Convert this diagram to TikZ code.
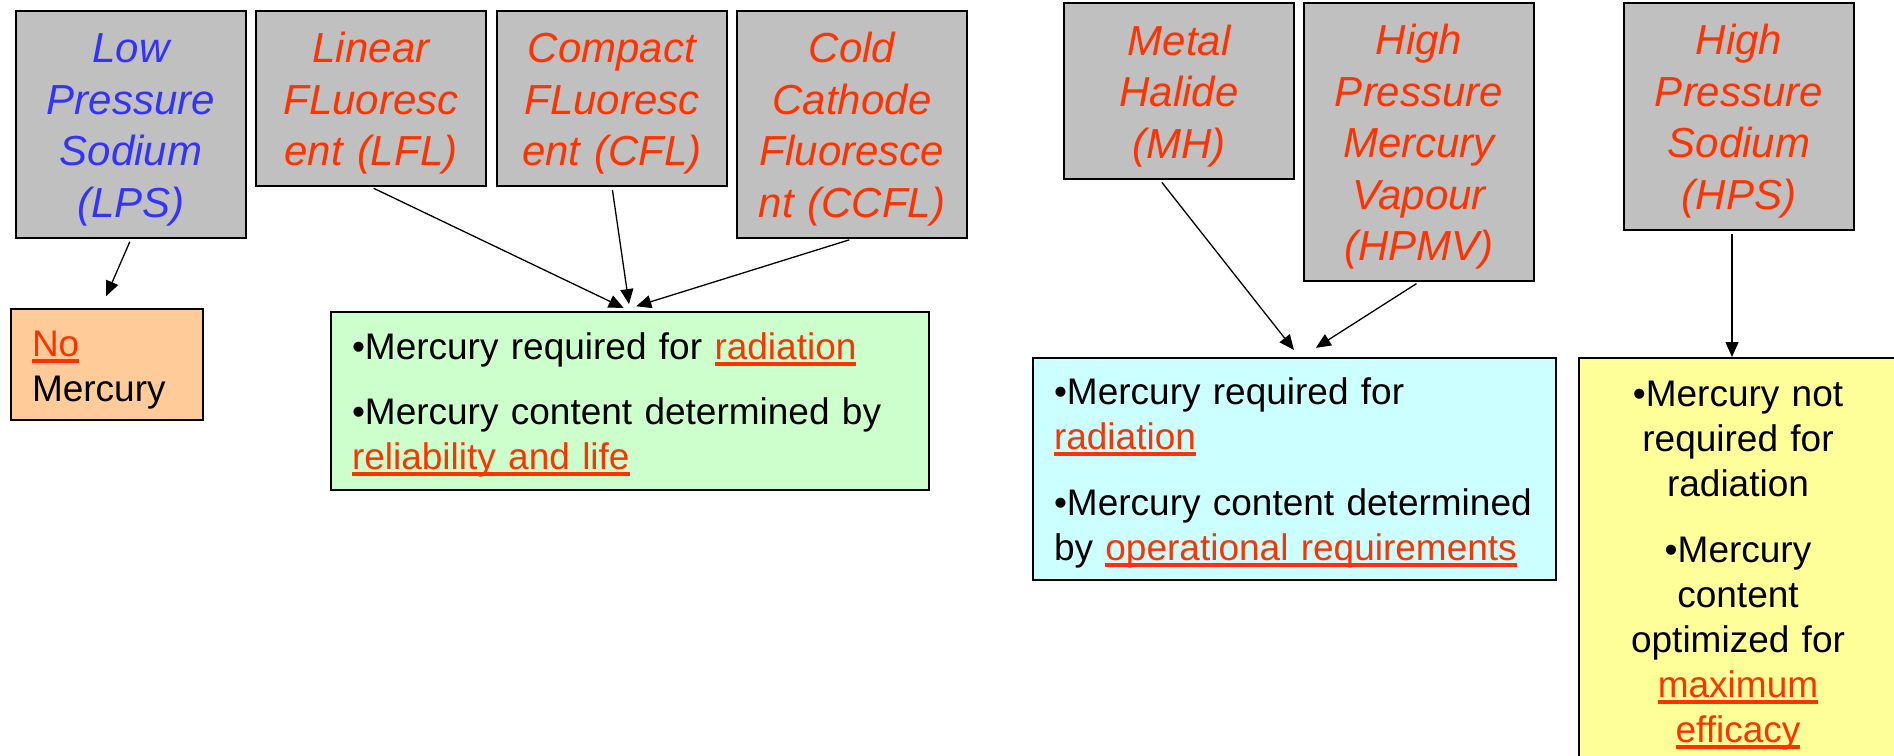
\documentclass[tikz,border=0pt]{standalone}
\usepackage{fontspec}
\setmainfont{Liberation Sans}
\usepackage{xcolor}
\usepackage{tikz}
\usetikzlibrary{arrows.meta}

\definecolor{lampgray}{HTML}{C0C0C0}
\definecolor{lampblue}{HTML}{3333FF}
\definecolor{lampred}{HTML}{FF3300}
\definecolor{nofill}{HTML}{FFCC99}
\definecolor{flfill}{HTML}{CCFFCC}
\definecolor{hidfill}{HTML}{CCFFFF}
\definecolor{hpsfill}{HTML}{FFFF99}

\newsavebox{\hgbox}
\newcommand{\hgred}[1]{\textcolor{lampred}{\sbox{\hgbox}{#1}\rlap{\rule[-6.5pt]{\wd\hgbox}{3.2pt}}\usebox{\hgbox}}}

\tikzset{
    lamp/.style={draw, line width=2pt, fill=lampgray, anchor=north west, inner sep=0pt,
        text width=230pt, align=center, text=lampred,
        font=\itshape\fontsize{42}{51.5}\selectfont,
        execute at begin node={\rule{0pt}{40pt}}},
    info/.style={draw, line width=2pt, anchor=north west, inner xsep=21pt, inner ysep=0pt,
        align=left, font=\fontsize{37}{45}\selectfont,
        execute at begin node={\rule{0pt}{34pt}}},
    feed/.style={-{Triangle[length=15pt,width=13pt]}, line width=1.3pt, shorten <=3pt}
}

\begin{document}
\begin{tikzpicture}[x=1pt, y=-1pt]
    \useasboundingbox (0,0) rectangle (1894,755);
    \clip (0,0) rectangle (1894,755);

    %lamp types
    \node[lamp, text=lampblue, minimum height=227pt] (lps) at (15,10) {Low\\Pressure\\Sodium\\(LPS)};
    \node[lamp, minimum height=175pt] (lfl) at (255,10) {Linear\\FLuoresc\\ent (LFL)};
    \node[lamp, minimum height=175pt] (cfl) at (496,10) {Compact\\FLuoresc\\ent (CFL)};
    \node[lamp, minimum height=227pt] (ccfl) at (736,10) {Cold\\Cathode\\Fluoresce\\nt (CCFL)};
    \node[lamp, minimum height=176pt] (mh) at (1063,2) {Metal\\Halide\\(MH)};
    \node[lamp, minimum height=278pt] (hpmv) at (1303,2) {High\\Pressure\\Mercury\\Vapour\\(HPMV)};
    \node[lamp, minimum height=227pt] (hps) at (1623,2) {High\\Pressure\\Sodium\\(HPS)};

    %mercury boxes
    \node[info, fill=nofill, text width=150pt, minimum height=111pt,
        execute at begin node={\rule{0pt}{36pt}}] (nohg) at (10,308)
        {\hgred{No}\\Mercury};
    \node[info, fill=flfill, text width=556pt, minimum height=178pt] (fl) at (330,311)
        {•Mercury required for \hgred{radiation}\\[20pt]
         •Mercury content determined by\\
         \hgred{reliability and life}};
    \node[info, fill=hidfill, text width=481pt, minimum height=222pt] (hid) at (1032,357)
        {•Mercury required for\\
         \hgred{radiation}\\[21pt]
         •Mercury content determined\\
         by \hgred{operational requirements}};
    \node[info, fill=hpsfill, align=center, text width=276pt, minimum height=406pt,
        execute at begin node={}] (hpsbox) at (1578,357)
        {•Mercury not\\required for\\radiation\\[21pt]
         •Mercury\\content\\optimized for\\\hgred{maximum}\\\hgred{efficacy}};

    %arrows
    \draw[feed, shorten >=13pt] (lps.south) -- ([xshift=-6pt]nohg.north);
    \draw[feed, shorten >=7pt] (lfl.south) -- (fl.north);
    \draw[feed, shorten >=7pt] (cfl.south) -- (fl.north);
    \draw[feed, shorten >=16pt] (ccfl.south) -- ([xshift=-9pt]fl.north);
    \draw[feed, shorten >=9pt] ([xshift=-19pt]mh.south) -- ([xshift=5pt]hid.north);
    \draw[feed, shorten >=17pt] (hpmv.south) -- ([xshift=7pt]hid.north);
    \draw[feed, shorten >=0pt] ([xshift=-7pt]hps.south) -- ([xshift=-6pt]hpsbox.north);

\end{tikzpicture}
\end{document}
